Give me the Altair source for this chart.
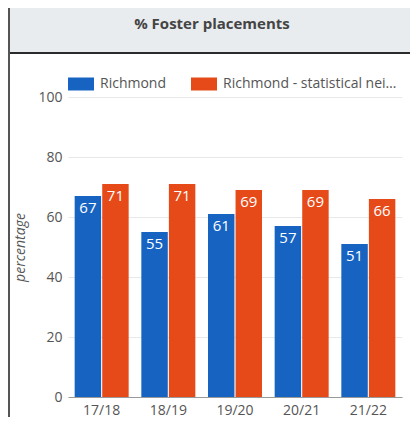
import altair as alt
import pandas as pd

years = ["17/18", "18/19", "19/20", "20/21", "21/22"]
richmond = [67, 55, 61, 57, 51]
stat_neigh = [71, 71, 69, 69, 66]
series = ["Richmond", "Richmond - statistical neighbours"]
colors = ["#1763c2", "#e64a19"]
title_text = "% Foster placements"

rows = []
for y, a, b in zip(years, richmond, stat_neigh):
    rows.append({"year": y, "series": series[0], "value": a})
    rows.append({"year": y, "series": series[1], "value": b})
df = pd.DataFrame(rows)
one = pd.DataFrame({"k": [0]})

FONT = "Open Sans"
W, H = 334, 300

x_enc = alt.X("year:N", sort=years,
              scale=alt.Scale(paddingInner=0.19, paddingOuter=0.1),
              axis=alt.Axis(title=None, labelAngle=0, ticks=False, domainColor="#999",
                            labelPadding=6, labelFontSize=14, labelColor="#555", labelFont=FONT))
xo_enc = alt.XOffset("series:N", sort=series, scale=alt.Scale(paddingInner=0.04))
y_enc = alt.Y("value:Q", scale=alt.Scale(domain=[0, 100], nice=False),
              axis=alt.Axis(values=list(range(0, 101, 10)),
                            labelExpr="datum.value % 20 == 0 ? datum.label : ''",
                            domain=False, ticks=False, gridColor="#e8e8e8",
                            labelFontSize=14, labelColor="#555", labelFont=FONT, labelPadding=6,
                            title="percentage", titleFontStyle="italic", titleFontWeight="normal",
                            titleFontSize=14, titleColor="#555", titleFont=FONT, titlePadding=10))

legend = alt.Legend(orient="none", legendX=0, legendY=-26, direction="horizontal", title=None,
                    symbolType="M-1,-0.5H1V0.5H-1Z", symbolSize=676, symbolStrokeWidth=0,
                    labelLimit=174, labelFontSize=14, labelColor="#555", labelFont=FONT,
                    columnPadding=24, labelOffset=6)

bars = alt.Chart(df).mark_bar().encode(
    x=x_enc, xOffset=xo_enc, y=y_enc,
    color=alt.Color("series:N", sort=series,
                    scale=alt.Scale(domain=series, range=colors), legend=legend),
)
labels = alt.Chart(df).mark_text(baseline="top", dy=5, color="white", fontSize=15, font=FONT).encode(
    x=alt.X("year:N", sort=years), xOffset=alt.XOffset("series:N", sort=series),
    y=alt.Y("value:Q"), text=alt.Text("value:Q"),
)

header = alt.Chart(one).mark_rect(color="#e9ecef").encode(
    x=alt.value(-60), x2=alt.value(342), y=alt.value(-89), y2=alt.value(-45))
header_line = alt.Chart(one).mark_rect(color="#2b2b2b").encode(
    x=alt.value(-60), x2=alt.value(342), y=alt.value(-45), y2=alt.value(-43))
left_line = alt.Chart(one).mark_rect(color="#555").encode(
    x=alt.value(-60), x2=alt.value(-58), y=alt.value(-89), y2=alt.value(320))
title = alt.Chart(one).mark_text(fontSize=15, fontWeight="bold", color="#444", font=FONT).encode(
    x=alt.value(144), y=alt.value(-73), text=alt.value(title_text))

chart = alt.layer(header, header_line, left_line, title, bars, labels).properties(
    width=W, height=H, padding=0, background="white"
).configure_view(stroke=None)

chart.save("out.html", embed_options={"renderer": "svg", "actions": False})
